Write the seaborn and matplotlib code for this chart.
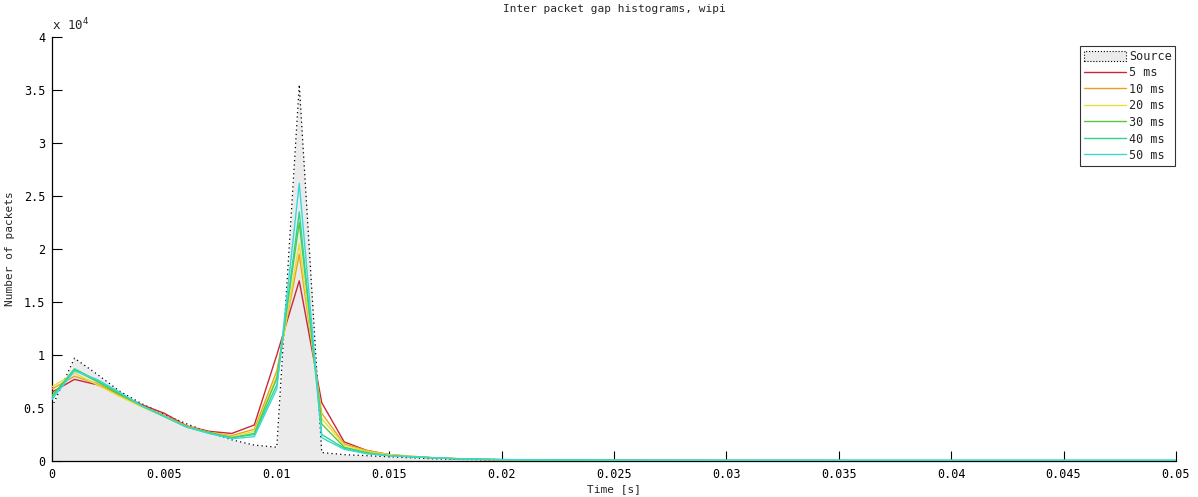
import numpy as np
import pandas as pd
import matplotlib
matplotlib.use("Agg")
import matplotlib.pyplot as plt
import seaborn as sns
from matplotlib.patches import Patch
from matplotlib.lines import Line2D
from matplotlib.ticker import FuncFormatter, MultipleLocator

# bin centres (s)
time_s = [round(i * 0.001, 3) for i in range(51)]

# values in units of 1e4 packets
source = [0.51, 0.97, 0.82, 0.66, 0.54, 0.44, 0.35, 0.27, 0.20, 0.15, 0.13, 3.55, 0.08, 0.06, 0.05, 0.04,
          0.03, 0.02, 0.015, 0.012, 0.01, 0.008, 0.007, 0.006, 0.005, 0.005, 0.004, 0.004, 0.004, 0.003,
          0.003, 0.003, 0.003, 0.003, 0.002, 0.002, 0.002, 0.002, 0.002, 0.002, 0.002, 0.002, 0.002, 0.002,
          0.002, 0.002, 0.002, 0.002, 0.002, 0.002, 0.002]
ms5 = [0.65, 0.77, 0.72, 0.63, 0.53, 0.45, 0.33, 0.28, 0.26, 0.34, 1.00, 1.70, 0.55, 0.18, 0.10, 0.06,
       0.04, 0.03, 0.02, 0.015, 0.012, 0.01, 0.009, 0.008, 0.007, 0.006, 0.006, 0.005, 0.005, 0.005,
       0.004, 0.004, 0.004, 0.004, 0.004, 0.003, 0.003, 0.003, 0.003, 0.003, 0.003, 0.003, 0.003, 0.003,
       0.003, 0.003, 0.003, 0.003, 0.003, 0.003, 0.003]
ms10 = [0.68, 0.80, 0.73, 0.62, 0.52, 0.43, 0.33, 0.27, 0.24, 0.30, 0.85, 1.95, 0.45, 0.16, 0.10, 0.06,
        0.045, 0.03, 0.022, 0.016, 0.012, 0.01, 0.009, 0.008, 0.007, 0.006, 0.006, 0.005, 0.005, 0.005,
        0.004, 0.004, 0.004, 0.004, 0.004, 0.004, 0.003, 0.003, 0.003, 0.003, 0.003, 0.003, 0.003, 0.003,
        0.003, 0.003, 0.003, 0.003, 0.003, 0.003, 0.003]
ms20 = [0.70, 0.83, 0.72, 0.61, 0.51, 0.42, 0.32, 0.27, 0.23, 0.28, 0.80, 2.05, 0.40, 0.15, 0.09, 0.06,
        0.045, 0.032, 0.024, 0.018, 0.013, 0.011, 0.01, 0.009, 0.008, 0.007, 0.006, 0.006, 0.005, 0.005,
        0.005, 0.005, 0.004, 0.004, 0.004, 0.004, 0.004, 0.004, 0.004, 0.004, 0.004, 0.004, 0.004, 0.004,
        0.004, 0.004, 0.004, 0.004, 0.004, 0.004, 0.004]
ms30 = [0.62, 0.86, 0.75, 0.63, 0.52, 0.42, 0.32, 0.27, 0.22, 0.26, 0.78, 2.25, 0.35, 0.13, 0.08, 0.05,
        0.04, 0.03, 0.022, 0.017, 0.013, 0.011, 0.01, 0.009, 0.008, 0.007, 0.006, 0.006, 0.005, 0.005,
        0.005, 0.005, 0.005, 0.005, 0.005, 0.005, 0.005, 0.005, 0.005, 0.005, 0.005, 0.005, 0.005, 0.005,
        0.005, 0.005, 0.005, 0.005, 0.005, 0.005, 0.005]
ms40 = [0.60, 0.87, 0.76, 0.64, 0.52, 0.42, 0.32, 0.26, 0.22, 0.25, 0.72, 2.35, 0.25, 0.12, 0.07, 0.05,
        0.04, 0.03, 0.022, 0.017, 0.013, 0.011, 0.01, 0.009, 0.008, 0.007, 0.007, 0.006, 0.006, 0.006,
        0.006, 0.006, 0.006, 0.006, 0.006, 0.006, 0.006, 0.006, 0.006, 0.006, 0.006, 0.006, 0.006, 0.006,
        0.006, 0.006, 0.006, 0.006, 0.006, 0.006, 0.006]
ms50 = [0.58, 0.85, 0.77, 0.65, 0.52, 0.42, 0.32, 0.26, 0.21, 0.23, 0.68, 2.62, 0.22, 0.11, 0.07, 0.05,
        0.04, 0.03, 0.022, 0.017, 0.014, 0.012, 0.01, 0.009, 0.008, 0.008, 0.007, 0.007, 0.007, 0.007,
        0.007, 0.007, 0.007, 0.007, 0.007, 0.007, 0.007, 0.007, 0.007, 0.007, 0.007, 0.007, 0.007, 0.007,
        0.007, 0.007, 0.007, 0.007, 0.007, 0.007, 0.007]

series_labels = ["5 ms", "10 ms", "20 ms", "30 ms", "40 ms", "50 ms"]
series_values = [ms5, ms10, ms20, ms30, ms40, ms50]
series_colors = ["#c8283a", "#e8a21e", "#e6e03a", "#5ac83c", "#2ed68a", "#3ad8d8"]

SCALE = 1e4

sns.set_theme(style="white")
plt.rcParams['font.family'] = ['DejaVu Sans Mono', 'DejaVu Sans']

fig = plt.figure(figsize=(11.98, 4.97), dpi=100)
ax = fig.add_axes([0.0434, 0.0724, 0.9816 - 0.0434, 0.9256 - 0.0724])

x = np.array(time_s)
src = np.array(source) * SCALE
ax.fill_between(x, 0, src, color="#ebebeb", linewidth=0, zorder=1)
sns.lineplot(x=x, y=src, ax=ax, color="black", linestyle=(0, (1, 2.5)), linewidth=0.9, zorder=2)

long = pd.DataFrame({
    "time": np.tile(x, len(series_labels)),
    "count": np.concatenate([np.array(v) * SCALE for v in series_values]),
    "series": np.repeat(series_labels, len(x)),
})
sns.lineplot(data=long, x="time", y="count", hue="series", hue_order=series_labels,
             palette=series_colors, linewidth=1.0, ax=ax, legend=False, zorder=3)

ax.set_xlim(0, 0.05)
ax.set_ylim(0, 4e4)
ax.xaxis.set_major_locator(MultipleLocator(0.005))
ax.yaxis.set_major_locator(MultipleLocator(5000))
ax.xaxis.set_major_formatter(FuncFormatter(lambda v, p: f"{v:g}"))
ax.yaxis.set_major_formatter(FuncFormatter(lambda v, p: f"{v / SCALE:g}"))
ax.tick_params(direction="in", length=7, width=0.8, labelsize=8.5, colors="black",
               bottom=True, left=True, top=False, right=False, pad=5)
for s in ["top", "right"]:
    ax.spines[s].set_visible(False)
for s in ["left", "bottom"]:
    ax.spines[s].set_color("black")
    ax.spines[s].set_linewidth(0.9)

ax.text(0.0, 1.008, r"x 10$^{4}$", transform=ax.transAxes, fontsize=9, ha="left", va="bottom")
ax.set_title("Inter packet gap histograms, wipi", fontsize=8, pad=18)
ax.set_xlabel("Time [s]", fontsize=8, labelpad=2)
ax.set_ylabel("Number of packets", fontsize=8, labelpad=6)

handles = [Patch(facecolor="#ebebeb", edgecolor="black", linestyle=":", linewidth=0.8, label="Source")]
for lab, col in zip(series_labels, series_colors):
    handles.append(Line2D([0], [0], color=col, linewidth=1.0, label=lab))
leg = ax.legend(handles=handles, loc="upper right", bbox_to_anchor=(0.9995, 0.978), fontsize=8.5,
                frameon=True, fancybox=False, handlelength=3.6, handleheight=1.0, handletextpad=0.25,
                labelspacing=0.3, borderpad=0.3, borderaxespad=0.0)
leg.get_frame().set_edgecolor("black")
leg.get_frame().set_linewidth(0.8)

fig.savefig("out.png", dpi=100)
